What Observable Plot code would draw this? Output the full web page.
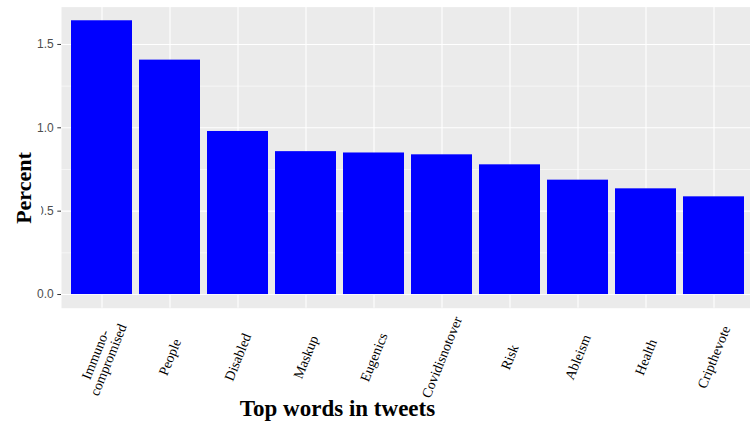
<!DOCTYPE html>
<html>
<head>
<meta charset="utf-8">
<script src="https://cdn.jsdelivr.net/npm/d3@7"></script>
<script src="https://cdn.jsdelivr.net/npm/@observablehq/plot@0.6"></script>
<style>
  html, body { margin: 0; padding: 0; background: white; overflow: hidden; }
  #wrap { position: relative; width: 750px; height: 422px; overflow: hidden; }
  #ylab { position: absolute; left: 0; top: 148px; width: 40.5px; height: 80px; background: white; }
  #ylab span { position: absolute; left: 24px; top: 50%; transform: translate(-50%, -50%) rotate(-90deg);
    font: bold 22px "Liberation Serif", "Times New Roman", serif; white-space: nowrap; color: black; }
  #title { position: absolute; left: 0; top: 397px; width: 675px; text-align: center;
    font: bold 23px/23px "Liberation Serif", "Times New Roman", serif; color: black; white-space: nowrap; }
</style>
</head>
<body>
<div id="wrap">
  <div id="chart"></div>
  <div id="ylab"><span>Percent</span></div>
  <div id="title">Top words in tweets</div>
</div>
<script>
// Data
const words = ["Immuno-\ncompromised", "People", "Disabled", "Maskup", "Eugenics",
               "Covidisnotover", "Risk", "Ableism", "Health", "Cripthevote"];
const percent = [1.642, 1.406, 0.978, 0.857, 0.849, 0.838, 0.778, 0.686, 0.634, 0.586];
const yTicks = [0, 0.5, 1.0, 1.5];
const yMinor = [0.25, 0.75, 1.25];

const table = words.map((w, i) => ({word: w, pct: percent[i]}));

const chart = Plot.plot({
  width: 750,
  height: 422,
  marginLeft: 61,
  marginRight: -4.6,
  marginTop: 6.6,
  marginBottom: 114.3,
  x: {type: "band", domain: words, paddingInner: 0.1, paddingOuter: 0.15, label: null},
  y: {domain: [-0.082, 1.724], label: null},
  marks: [
    Plot.frame({fill: "#ebebeb", stroke: null}),
    Plot.gridY(yMinor, {stroke: "white", strokeOpacity: 1, strokeWidth: 0.55}),
    Plot.gridY(yTicks, {stroke: "white", strokeOpacity: 1, strokeWidth: 1.1}),
    Plot.gridX(words, {stroke: "white", strokeOpacity: 1, strokeWidth: 1.1}),
    Plot.barY(table, {x: "word", y: "pct", fill: "#0000ff"}),
    Plot.axisY(yTicks, {
      tickFormat: d3.format(".1f"), tickSize: 3.7, tickPadding: 4,
      fontSize: 12, fontFamily: "Liberation Sans, Arial, sans-serif",
      fill: "#4d4d4d", stroke: "#333333", label: null
    }),
    Plot.axisX(words, {
      tickSize: 0, tickRotate: -68, textAnchor: "middle", lineAnchor: "middle",
      tickPadding: 49, fontSize: 14, fontFamily: "Liberation Serif, Times New Roman, serif",
      fill: "black", label: null
    })
  ]
});
document.getElementById("chart").appendChild(chart);
</script>
</body>
</html>
